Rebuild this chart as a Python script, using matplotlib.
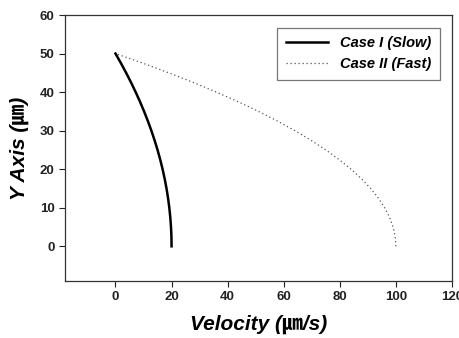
import matplotlib
matplotlib.use('Agg')
import matplotlib.pyplot as plt

# y positions (um) and velocities
y_pos = [0, 2.5, 5, 7.5, 10, 12.5, 15, 17.5, 20, 22.5, 25, 27.5, 30, 32.5,
         35, 37.5, 40, 42.5, 45, 47.5, 50]
v_slow = [20, 19.95, 19.8, 19.55, 19.2, 18.75, 18.2, 17.55, 16.8, 15.95, 15,
          13.95, 12.8, 11.55, 10.2, 8.75, 7.2, 5.55, 3.8, 1.95, 0]
v_fast = [100, 99.75, 99, 97.75, 96, 93.75, 91, 87.75, 84, 79.75, 75, 69.75,
          64, 57.75, 51, 43.75, 36, 27.75, 19, 9.75, 0]

fams = ['Liberation Sans', 'Noto Sans CJK JP', 'DejaVu Sans']
plt.rcParams['font.family'] = fams

fig = plt.figure(figsize=(4.6, 3.38), dpi=100)
ax = fig.add_axes([0.1413, 0.1686, 0.8413, 0.787])

ax.plot(v_slow, y_pos, color='black', lw=1.8, label='Case I (Slow)')
ax.plot(v_fast, y_pos, color='#555555', lw=0.9, ls=(0, (1, 2.2)), label='Case II (Fast)')

ax.set_xlim(-18, 120)
ax.set_ylim(-9, 60)
ax.set_xticks([0, 20, 40, 60, 80, 100, 120])
ax.set_yticks([0, 10, 20, 30, 40, 50, 60])
ax.tick_params(direction='out', length=4, width=0.8, labelsize=9.5, colors='#222222')
for lab in ax.get_xticklabels() + ax.get_yticklabels():
    lab.set_fontweight('bold')
for sp in ax.spines.values():
    sp.set_color('#333333')
    sp.set_linewidth(0.9)

ax.set_xlabel('Velocity (㎛/s)', fontsize=15, fontweight='bold', style='italic', labelpad=8)
ax.set_ylabel('Y Axis (㎛)', fontsize=15, fontweight='bold', style='italic', labelpad=8)

leg = ax.legend(loc='upper right', bbox_to_anchor=(0.988, 0.98), fancybox=False,
                edgecolor='#555555', handlelength=2.9, borderpad=0.6, labelspacing=0.45,
                prop={'weight': 'bold', 'style': 'italic', 'size': 10.5})
leg.get_frame().set_linewidth(0.9)

fig.savefig('out.png', dpi=100)
